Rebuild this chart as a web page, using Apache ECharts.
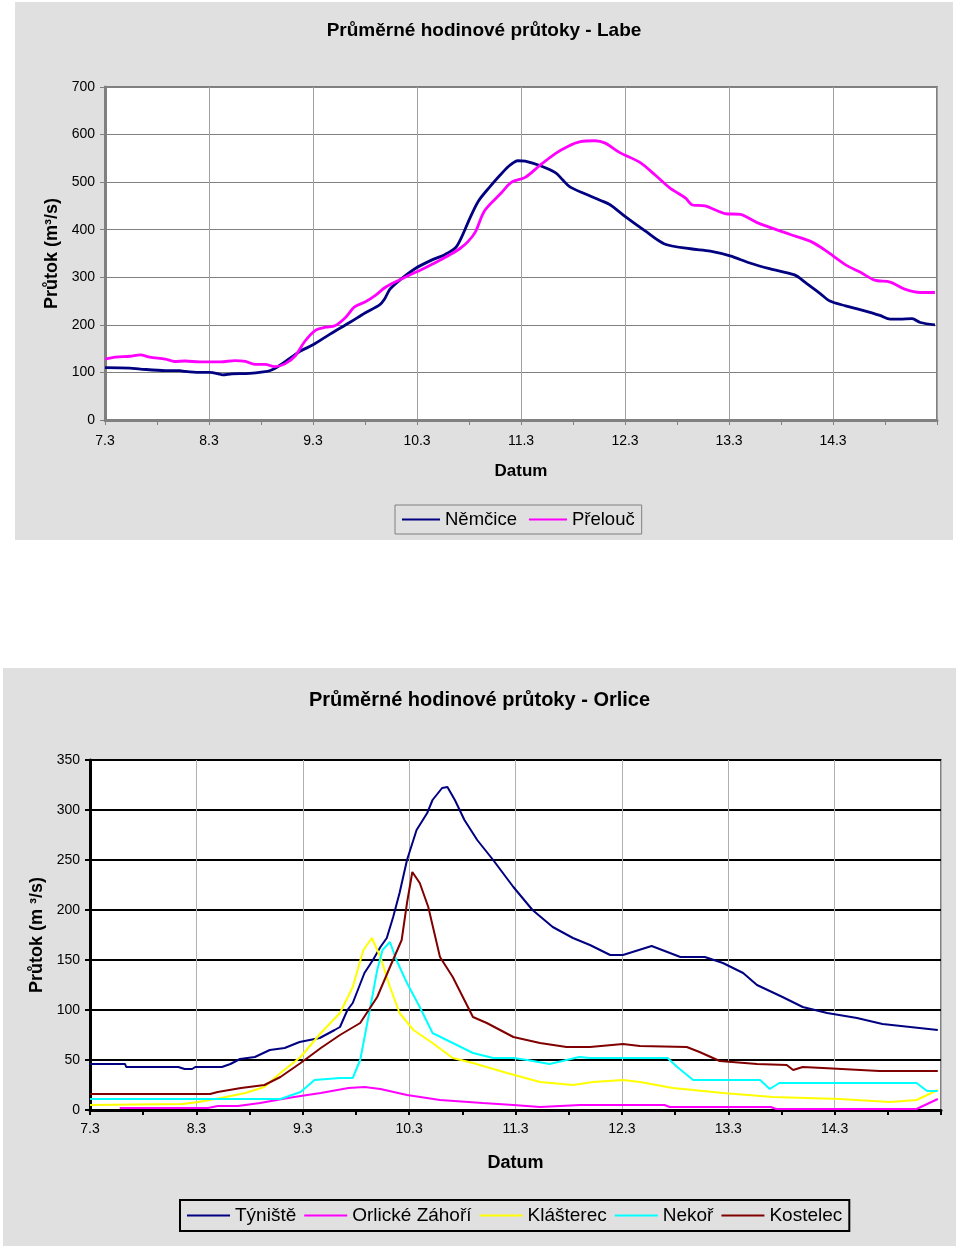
<!DOCTYPE html>
<html>
<head>
<meta charset="utf-8">
<script src="https://cdn.jsdelivr.net/npm/echarts@6/dist/echarts.min.js"></script>
<style>
html,body{margin:0;padding:0;background:#ffffff;width:960px;height:1248px;overflow:hidden;}
#c1{position:absolute;left:15px;top:2px;width:938px;height:538px;background:#e0e0e0;}
#c2{position:absolute;left:3px;top:668px;width:953px;height:578px;background:#e0e0e0;}
</style>
</head>
<body>
<div id="c1"></div>
<div id="c2"></div>
<script>
// x tick labels (day offsets 0..7 from 7.3)
const tickLabels = ["7.3","8.3","9.3","10.3","11.3","12.3","13.3","14.3"];

// ---- Labe (x = days since 7.3 0:00, y = m3/s)
const nemciceX = [0,0.24,0.34,0.58,0.72,0.77,0.91,1.01,1.09,1.13,1.22,1.39,1.52,1.59,1.66,1.78,1.88,2.0,2.16,2.36,2.5,2.64,2.69,2.74,2.84,2.98,3.13,3.27,3.37,3.43,3.51,3.59,3.7,3.8,3.89,3.97,4.04,4.18,4.33,4.4,4.47,4.62,4.76,4.86,5.0,5.19,5.38,5.63,5.82,6.01,6.2,6.39,6.63,6.73,6.88,6.97,7.12,7.26,7.45,7.55,7.64,7.76,7.84,7.98];
const nemciceY = [110,109,107,104,104,102,100,100,97,95,97,98,101,104,112,130,145,158,180,206,225,242,255,275,295,318,335,348,362,385,425,460,490,515,535,545,544,535,520,505,490,475,462,452,428,398,370,360,355,345,330,318,305,290,265,250,240,232,220,212,212,213,205,200];

const preloucX = [0,0.1,0.24,0.34,0.43,0.58,0.67,0.77,0.91,1.11,1.25,1.35,1.44,1.54,1.63,1.73,1.83,1.92,2.02,2.12,2.21,2.31,2.4,2.5,2.6,2.69,2.79,2.93,3.03,3.17,3.32,3.41,3.49,3.56,3.65,3.8,3.91,4.04,4.18,4.33,4.45,4.57,4.71,4.81,4.95,5.14,5.29,5.43,5.58,5.65,5.77,5.96,6.11,6.27,6.59,6.78,6.89,7.0,7.13,7.26,7.4,7.55,7.69,7.84,7.98];
const preloucY = [128,132,134,137,132,128,123,124,122,122,125,123,117,117,112,118,135,165,188,195,198,215,238,248,262,278,290,305,315,330,348,360,375,395,440,475,500,510,535,560,575,585,587,582,562,542,515,488,467,452,450,434,432,415,390,376,362,345,325,311,294,290,275,268,268];

// ---- Orlice
const tynisteX = [0,0.33,0.34,0.83,0.89,0.96,0.99,1.24,1.32,1.41,1.55,1.69,1.83,1.97,2.16,2.3,2.35,2.42,2.47,2.58,2.66,2.73,2.79,2.85,2.91,2.98,3.07,3.17,3.22,3.31,3.36,3.43,3.52,3.64,3.79,3.98,4.16,4.35,4.54,4.7,4.89,5.01,5.1,5.28,5.55,5.78,5.95,6.14,6.27,6.51,6.7,6.93,7.21,7.45,7.71,7.97];
const tynisteY = [46,46,43,43,41,41,43,43,46,51,53,60,62,68,72,80,83,100,107,137,150,163,172,193,217,250,280,297,310,322,323,310,290,270,250,223,200,183,172,165,155,155,158,164,153,153,147,137,125,113,103,97,92,86,83,80];

const zahoriX = [0.28,1.11,1.2,1.39,1.6,1.86,1.98,2.17,2.43,2.58,2.73,2.98,3.29,3.69,3.98,4.23,4.61,5.4,5.45,6.4,6.45,7.77,7.97];
const zahoriY = [2,2,4,4,7,12,14,17,22,23,21,15,10,7,5,3,5,5,3,3,1,1,11];

const klasterecX = [0,0.87,1.02,1.23,1.46,1.64,1.79,1.98,2.17,2.35,2.47,2.57,2.65,2.73,2.82,2.91,3.04,3.22,3.41,3.6,3.92,4.23,4.54,4.73,5.01,5.17,5.48,5.95,6.42,7.05,7.52,7.77,7.97];
const klasterecY = [5,6,8,12,17,23,37,53,77,97,123,160,172,153,123,97,80,67,52,47,37,28,25,28,30,28,22,17,13,11,8,10,20];

const nekorX = [0,1.79,1.98,2.11,2.35,2.47,2.54,2.63,2.7,2.75,2.82,2.88,2.98,3.1,3.22,3.41,3.6,3.79,3.98,4.11,4.32,4.48,4.6,4.7,5.43,5.52,5.67,6.3,6.39,6.48,7.77,7.87,7.97];
const nekorY = [11,11,18,30,32,32,50,100,140,160,168,150,127,103,77,67,57,52,52,50,46,50,53,52,52,43,30,30,21,27,27,19,19];

const kostelecX = [0,1.13,1.2,1.42,1.64,1.79,1.98,2.17,2.35,2.54,2.7,2.82,2.93,2.98,3.03,3.1,3.18,3.29,3.41,3.6,3.73,3.98,4.23,4.48,4.7,5.01,5.17,5.61,5.73,5.92,6.27,6.55,6.61,6.7,6.89,7.42,7.97];
const kostelecY = [16,16,18,22,25,33,47,62,75,87,113,143,170,207,238,227,203,153,133,93,87,73,67,63,63,66,64,63,58,49,46,45,40,43,42,39,39];

function pts(xs, ys){ return xs.map((x,i)=>[x, ys[i]]); }
const FONT = "'Liberation Sans', Arial, sans-serif";
function xLabel(v){ return (Number.isInteger(v) && v < tickLabels.length) ? tickLabels[v] : ''; }

// ---------- Chart 1: Labe
const ch1 = echarts.init(document.getElementById('c1'), null, {renderer:'canvas'});
ch1.setOption({
  animation:false,
  textStyle:{fontFamily:FONT},
  title:{text:'Průměrné hodinové průtoky - Labe', left:'center', top:14,
    textStyle:{fontFamily:FONT,fontSize:19,fontWeight:'bold',color:'#000'}},
  legend:{data:['Němčice','Přelouč'], left:380, top:503, icon:'rect', itemWidth:38, itemHeight:2, itemGap:12,
    borderColor:'#808080', borderWidth:1, padding:[5,7,5,7], backgroundColor:'#e0e0e0',
    textStyle:{fontFamily:FONT,fontSize:18.5,color:'#000'}},
  grid:{left:90, top:85, width:832, height:333, show:true, backgroundColor:'#fff', borderColor:'#808080', borderWidth:2},
  xAxis:{type:'value', min:0, max:8, interval:1,
    name:'Datum', nameLocation:'middle', nameGap:43,
    nameTextStyle:{fontFamily:FONT,fontSize:17,fontWeight:'bold',color:'#000'},
    axisLine:{lineStyle:{color:'#808080',width:3}},
    axisTick:{show:true,length:5,lineStyle:{color:'#808080',width:1}},
    minorTick:{show:true,splitNumber:2,length:5,lineStyle:{color:'#808080',width:1}},
    axisLabel:{formatter:xLabel, fontSize:14, color:'#000', margin:14, fontFamily:FONT},
    splitLine:{show:true,lineStyle:{color:'#a0a0a0',width:1}}},
  yAxis:{type:'value', min:0, max:700, interval:100,
    name:'Průtok (m³/s)', nameLocation:'middle', nameGap:44, nameRotate:90,
    nameTextStyle:{fontFamily:FONT,fontSize:18,fontWeight:'bold',color:'#000'},
    axisLine:{show:true,lineStyle:{color:'#808080',width:3}},
    axisTick:{show:true,length:5,lineStyle:{color:'#808080'}},
    axisLabel:{fontSize:14,color:'#000',margin:10,fontFamily:FONT},
    splitLine:{show:true,lineStyle:{color:'#808080',width:1}}},
  series:[
    {name:'Němčice', type:'line', data:pts(nemciceX,nemciceY), showSymbol:false, symbol:'none', smooth:0.3,
      lineStyle:{color:'#000080',width:2.8}, itemStyle:{color:'#000080'}},
    {name:'Přelouč', type:'line', data:pts(preloucX,preloucY), showSymbol:false, symbol:'none', smooth:0.3,
      lineStyle:{color:'#ff00ff',width:2.8}, itemStyle:{color:'#ff00ff'}}
  ]
});

// ---------- Chart 2: Orlice
const ch2 = echarts.init(document.getElementById('c2'), null, {renderer:'canvas'});
const names2 = ['Týniště','Orlické Záhoří','Klášterec','Nekoř','Kostelec'];
const colors2 = ['#000080','#ff00ff','#ffff00','#00ffff','#800000'];
const data2 = [pts(tynisteX,tynisteY), pts(zahoriX,zahoriY), pts(klasterecX,klasterecY), pts(nekorX,nekorY), pts(kostelecX,kostelecY)];
ch2.setOption({
  animation:false,
  textStyle:{fontFamily:FONT},
  title:{text:'Průměrné hodinové průtoky - Orlice', left:'center', top:17,
    textStyle:{fontFamily:FONT,fontSize:20,fontWeight:'bold',color:'#000'}},
  legend:{data:names2, left:177, top:532, icon:'rect', itemWidth:43, itemHeight:2, itemGap:8,
    borderColor:'#000', borderWidth:2, padding:[6,7,6,7], backgroundColor:'#e0e0e0',
    textStyle:{fontFamily:FONT,fontSize:19,color:'#000'}},
  grid:{left:87, top:92, width:851, height:350, show:true, backgroundColor:'#fff', borderColor:'#808080', borderWidth:2},
  xAxis:{type:'value', min:0, max:8, interval:1,
    name:'Datum', nameLocation:'middle', nameGap:44,
    nameTextStyle:{fontFamily:FONT,fontSize:18,fontWeight:'bold',color:'#000'},
    axisLine:{lineStyle:{color:'#000',width:3}},
    axisTick:{show:true,length:5,lineStyle:{color:'#000',width:2}},
    minorTick:{show:true,splitNumber:2,length:5,lineStyle:{color:'#000',width:2}},
    axisLabel:{formatter:xLabel, fontSize:14, color:'#000', margin:12, fontFamily:FONT},
    splitLine:{show:true,lineStyle:{color:'#b0b0b0',width:1}}},
  yAxis:{type:'value', min:0, max:350, interval:50,
    name:'Průtok (m ³/s)', nameLocation:'middle', nameGap:42, nameRotate:90,
    nameTextStyle:{fontFamily:FONT,fontSize:18,fontWeight:'bold',color:'#000'},
    axisLine:{show:true,lineStyle:{color:'#000',width:3}},
    axisTick:{show:true,length:5,lineStyle:{color:'#000',width:2}},
    axisLabel:{fontSize:14,color:'#000',margin:10,fontFamily:FONT},
    splitLine:{show:true,lineStyle:{color:'#000',width:2}}},
  series: names2.map((n,i)=>({name:n, type:'line', data:data2[i], showSymbol:false, symbol:'none',
    lineStyle:{color:colors2[i], width:2}, itemStyle:{color:colors2[i]}}))
});
</script>
</body>
</html>
